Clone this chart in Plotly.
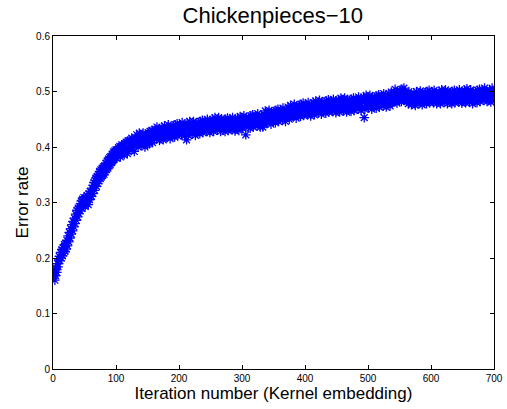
import plotly.graph_objects as go

# Error rate per iteration (in thousandths), 10 iterations per row
err_milli = [
    172,178,160,168,182,174,190,184,198,203,
    195,210,200,215,204,218,209,224,212,226,
    216,232,222,240,229,246,236,253,243,260,
    249,266,256,272,262,279,268,286,274,290,
    280,293,285,298,303,289,306,295,309,297,
    293,308,299,313,302,296,316,305,320,312,
    311,326,316,331,336,322,340,344,329,347,
    334,350,339,356,343,359,346,362,349,364,
    351,366,355,371,359,375,362,378,366,381,
    368,383,372,387,375,391,378,393,381,395,
    380,395,385,399,386,401,382,394,404,388,
    390,403,386,406,393,409,396,388,411,398,
    398,412,402,394,416,406,400,410,392,408,
    416,404,422,412,400,418,425,410,406,414,
    403,415,425,409,419,400,421,417,411,405,
    426,414,406,428,420,412,430,408,422,418,
    418,432,422,414,436,426,420,430,412,428,
    429,417,435,425,413,431,438,423,419,427,
    418,430,440,424,434,415,436,432,426,420,
    438,426,418,440,432,424,442,420,434,430,
    426,440,430,422,444,434,428,438,420,436,
    437,413,443,433,421,439,446,431,427,435,
    424,436,446,430,440,421,442,438,432,426,
    444,432,424,446,438,430,448,426,440,436,
    432,446,436,428,450,440,434,444,426,442,
    444,432,450,440,428,446,453,438,434,442,
    431,443,453,437,447,428,449,445,439,433,
    448,436,428,450,442,434,452,430,444,440,
    435,449,439,431,453,443,437,447,429,445,
    446,434,452,442,430,448,455,440,436,444,
    434,446,456,440,450,422,452,448,442,436,
    454,442,434,456,448,440,458,436,450,446,
    442,456,446,438,460,450,444,454,436,452,
    456,444,436,452,440,458,465,450,446,454,
    444,456,466,450,460,441,462,458,452,446,
    464,452,444,466,458,450,468,446,460,456,
    452,466,456,448,470,460,454,464,446,462,
    466,454,472,462,450,468,475,460,456,464,
    455,467,477,461,471,452,473,469,463,457,
    475,463,455,477,469,461,479,457,471,467,
    462,476,466,458,480,470,464,474,456,472,
    474,462,480,470,458,476,483,468,464,472,
    462,474,484,468,478,459,480,476,470,464,
    481,469,461,483,475,467,485,463,477,473,
    468,482,472,464,486,476,470,480,462,478,
    479,467,485,475,463,481,488,473,469,477,
    466,478,488,472,482,463,484,480,474,468,
    484,472,464,486,478,470,488,466,480,476,
    472,486,476,468,490,480,474,484,466,482,
    484,472,490,453,468,486,493,478,474,482,
    471,483,493,477,487,468,489,485,479,473,
    490,478,470,492,484,476,494,472,486,482,
    478,492,482,474,496,486,480,490,472,488,
    490,478,496,486,474,492,499,484,480,488,
    482,494,504,488,498,479,500,496,490,484,
    502,490,482,504,496,488,506,484,498,494,
    482,496,486,478,500,490,484,494,476,492,
    491,479,497,487,475,493,500,485,481,489,
    479,491,501,485,495,476,497,493,487,481,
    498,486,478,500,492,484,502,480,494,490,
    484,498,488,480,502,492,486,496,478,494,
    494,482,500,490,478,496,503,488,484,492,
    481,493,503,487,497,478,499,495,489,483,
    498,486,478,500,492,484,502,480,494,490,
    485,499,489,481,503,493,487,497,479,495,
    496,484,502,492,480,498,505,490,486,494,
    481,493,503,487,497,478,499,495,489,483,
    500,488,480,502,494,486,504,482,496,492,
    488,502,492,484,506,496,490,500,482,498,
    497,485,503,493,481,499,506,491,487,495,
]
iterations = list(range(1, len(err_milli) + 1))
error_rate = [v / 1000 for v in err_milli]

x_ticks = [0, 100, 200, 300, 400, 500, 600, 700]
y_ticks = [0, 0.1, 0.2, 0.3, 0.4, 0.5, 0.6]
y_tick_text = ["0", "0.1", "0.2", "0.3", "0.4", "0.5", "0.6"]

FONT = "Liberation Sans, Arial, Helvetica, sans-serif"

fig = go.Figure()
fig.add_trace(go.Scatter(
    x=iterations, y=error_rate, mode="markers",
    marker=dict(symbol="asterisk-open", size=8, color="#0000FF",
                line=dict(color="#0000FF", width=1.3)),
    showlegend=False,
))

axis_common = dict(
    showline=True, linecolor="black", linewidth=1, mirror="allticks",
    ticks="inside", ticklen=4, tickcolor="black", tickwidth=1,
    showgrid=False, zeroline=False, automargin=False,
    tickfont=dict(family=FONT, size=10, color="black"),
)

fig.update_layout(
    width=507, height=409,
    margin=dict(l=53, r=13, t=36, b=40),
    paper_bgcolor="white", plot_bgcolor="white",
    title=dict(text="Chickenpieces\u221210", x=0.538, xanchor="center",
               y=0.962, yanchor="middle",
               font=dict(family=FONT, size=22, color="black")),
    xaxis=dict(range=[0, 700], tickvals=x_ticks,
               title=dict(text="Iteration number (Kernel embedding)", standoff=1,
                          font=dict(family=FONT, size=17, color="black")),
               **axis_common),
    yaxis=dict(range=[0, 0.6], tickvals=y_ticks, ticktext=y_tick_text,
               title=dict(text="Error rate", standoff=3,
                          font=dict(family=FONT, size=17, color="black")),
               **axis_common),
)

fig.write_html("out.html")
